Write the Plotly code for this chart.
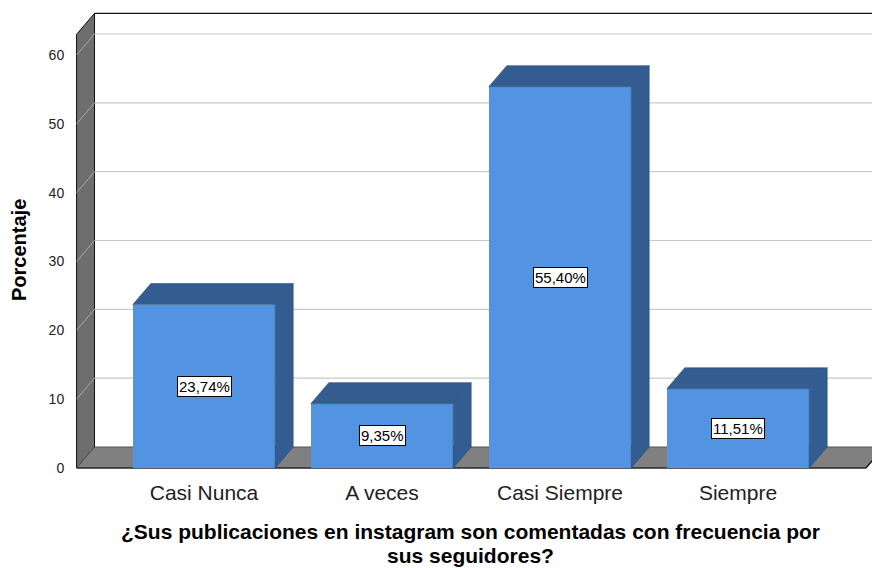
import plotly.graph_objects as go

# ---- data ----
categories = ["Casi Nunca", "A veces", "Casi Siempre", "Siempre"]
percentages = [23.74, 9.35, 55.40, 11.51]
y_ticks = [0, 10, 20, 30, 40, 50, 60]
y_title = "Porcentaje"
x_title_line1 = "¿Sus publicaciones en instagram son comentadas con frecuencia por"
x_title_line2 = "sus seguidores?"

# ---- style / geometry (in axis units) ----
FONT = "Liberation Sans, Arial, sans-serif"
FRONT = "#5294e2"
SIDE = "#335c91"
EDGE = "#294c7a"
BAR_W = 0.8
DX = 0.101      # depth offset in x units
DY = 3.05       # depth offset in y units
WALL_TOP = 63
X0 = -0.716     # left wall front edge
XR = 3.719      # floor front right edge
XMAX = 3.9

xs = list(range(len(categories)))

fig = go.Figure()

# front faces
fig.add_trace(go.Bar(
    x=xs, y=percentages, width=BAR_W,
    marker=dict(color=FRONT, line=dict(width=0)),
    hoverinfo="skip", showlegend=False,
))

# top and side faces (3D effect), computed from data values
for xc, v in zip(xs, percentages):
    l, r = xc - BAR_W / 2, xc + BAR_W / 2
    fig.add_trace(go.Scatter(
        x=[l, r, r + DX, l + DX, l], y=[v, v, v + DY, v + DY, v],
        fill="toself", fillcolor=SIDE, mode="lines",
        line=dict(color=EDGE, width=0.6), hoverinfo="skip", showlegend=False))
    fig.add_trace(go.Scatter(
        x=[r, r + DX, r + DX, r, r], y=[0, DY, v + DY, v, 0],
        fill="toself", fillcolor=SIDE, mode="lines",
        line=dict(color=EDGE, width=0.6), hoverinfo="skip", showlegend=False))

shapes = []
# left wall
shapes.append(dict(type="path", xref="x", yref="y", layer="below",
                   path=f"M {X0},0 L {X0+DX},{DY} L {X0+DX},{WALL_TOP+DY} L {X0},{WALL_TOP} Z",
                   fillcolor="#6e6e6e", line=dict(color="#111111", width=1)))
# back wall and left wall gridlines
for t in y_ticks[1:]:
    shapes.append(dict(type="line", xref="x", yref="y", layer="below",
                       x0=X0 + DX, x1=XMAX, y0=t + DY, y1=t + DY,
                       line=dict(color="#c9c9c9", width=1.2)))
    shapes.append(dict(type="line", xref="x", yref="y", layer="below",
                       x0=X0, x1=X0 + DX, y0=t, y1=t + DY,
                       line=dict(color="#a8a8a8", width=1)))
# floor
shapes.append(dict(type="path", xref="x", yref="y", layer="below",
                   path=f"M {X0},0 L {XR},0 L {XR+DX},{DY} L {X0+DX},{DY} Z",
                   fillcolor="#808080", line=dict(color="#555555", width=1)))
shapes.append(dict(type="line", xref="x", yref="y", layer="below",
                   x0=X0, x1=XR, y0=0, y1=0, line=dict(color="#111111", width=1.2)))
shapes.append(dict(type="line", xref="x", yref="y", layer="below",
                   x0=XR, x1=XR + DX, y0=0, y1=DY, line=dict(color="#111111", width=1.2)))
# back wall top edge
shapes.append(dict(type="line", xref="x", yref="y", layer="below",
                   x0=X0 + DX, x1=XMAX, y0=WALL_TOP + DY, y1=WALL_TOP + DY,
                   line=dict(color="#111111", width=1.2)))

annotations = []
for xc, v in zip(xs, percentages):
    annotations.append(dict(
        x=xc, y=v / 2, xref="x", yref="y", showarrow=False,
        xanchor="center", yanchor="middle",
        text=f"{v:.2f}".replace(".", ",") + "%",
        font=dict(family=FONT, size=15, color="#000000"),
        bgcolor="#ffffff", bordercolor="#000000", borderwidth=1, borderpad=1))

# plot area: x 72..872, y 0..478 (pixels)
annotations.append(dict(x=(19 - 72) / 800, y=(478 - 250) / 478, xref="paper", yref="paper",
                        xanchor="center", yanchor="middle", showarrow=False,
                        text=f"<b>{y_title}</b>", textangle=-90,
                        font=dict(family=FONT, size=20, color="#000000")))
annotations.append(dict(x=(470 - 72) / 800, y=(478 - 531.5) / 478, xref="paper", yref="paper",
                        xanchor="center", yanchor="middle", showarrow=False, borderpad=0,
                        text=f"<b>{x_title_line1}</b>",
                        font=dict(family=FONT, size=21, color="#000000")))
annotations.append(dict(x=(470 - 72) / 800, y=(478 - 555.5) / 478, xref="paper", yref="paper",
                        xanchor="center", yanchor="middle", showarrow=False, borderpad=0,
                        text=f"<b>{x_title_line2}</b>",
                        font=dict(family=FONT, size=21, color="#000000")))

fig.update_layout(
    width=872, height=568,
    margin=dict(l=72, r=0, t=0, b=90, autoexpand=False),
    paper_bgcolor="white", plot_bgcolor="white",
    shapes=shapes, annotations=annotations,
    showlegend=False, bargap=0,
    xaxis=dict(range=[-0.7416, 3.7528], tickvals=xs, ticktext=categories,
               showgrid=False, zeroline=False, showline=False, ticks="", automargin=False,
               tickfont=dict(family=FONT, size=21, color="#222222"), fixedrange=True),
    yaxis=dict(range=[-1.453, 67.99], tickvals=y_ticks, ticktext=[str(t) for t in y_ticks],
               showgrid=False, zeroline=False, showline=False, automargin=False,
               ticks="outside", ticklen=4, tickcolor="rgba(0,0,0,0)",
               tickfont=dict(family=FONT, size=14, color="#222222"), fixedrange=True),
)

fig.write_html("out.html", config={"displayModeBar": False},
               post_script="document.body.style.margin='0px';document.body.style.overflow='hidden';")
